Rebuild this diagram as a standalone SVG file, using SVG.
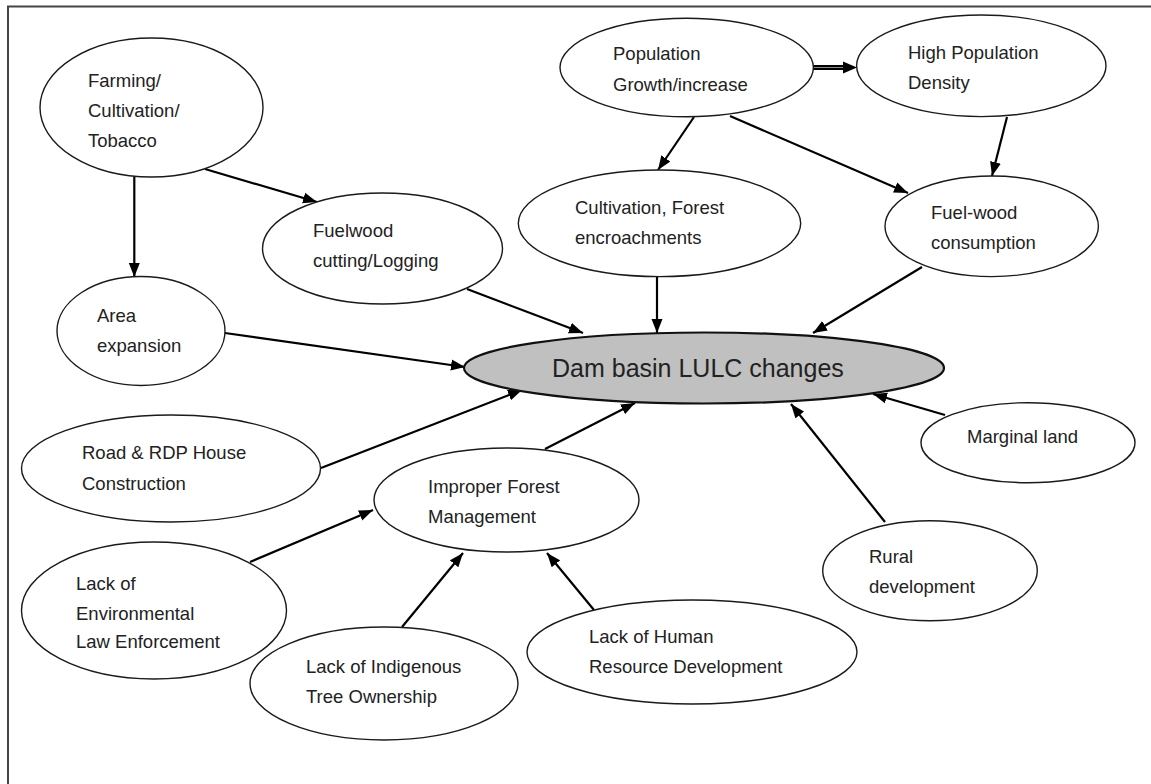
<svg xmlns="http://www.w3.org/2000/svg" width="1151" height="784" viewBox="0 0 1151 784">
<style>
.n ellipse{fill:#fff;stroke:#1a1a1a;stroke-width:1.4}
.n text{font-family:"Liberation Sans",Arial,sans-serif;font-size:18.5px;fill:#222}
#dam ellipse{fill:#c0c0c0;stroke:#111;stroke-width:2.2}
#dam text{font-size:25px}
.c line{stroke:#000;stroke-width:2.2;marker-end:url(#ah)}
</style>
<defs>
<marker id="ah" markerUnits="userSpaceOnUse" markerWidth="15" markerHeight="12" refX="14" refY="6" orient="auto">
<path d="M0,0.5 L14,6 L0,11.5 z" fill="#000"/>
</marker>
</defs>
<rect width="1151" height="784" fill="#fff"/>
<g id="frame" fill="none" stroke="#444" stroke-width="2">
<line x1="7" y1="6.5" x2="1151" y2="6.5"/>
<line x1="8" y1="6" x2="8" y2="784"/>
</g>
<g class="c" id="connectors">
<line x1="134.3" y1="177" x2="134.3" y2="277"/>
<line x1="205" y1="169" x2="317" y2="202"/>
<line x1="467" y1="289" x2="583" y2="333"/>
<line x1="657" y1="277" x2="657" y2="333"/>
<line x1="922" y1="267" x2="813" y2="333"/>
<line x1="694" y1="117" x2="658" y2="170"/>
<line x1="730" y1="116" x2="908" y2="193"/>
<path d="M813,67.5 H846" stroke="#000" stroke-width="5" fill="none"/>
<path d="M813,67.5 H846" stroke="#888" stroke-width="1.2" fill="none"/>
<path d="M843,61.5 L857,67.5 L843,73.5 z" fill="#000"/>
<line x1="1007" y1="117" x2="992" y2="176"/>
<line x1="225" y1="333" x2="465" y2="367"/>
<line x1="321" y1="468" x2="522" y2="390"/>
<line x1="545" y1="449" x2="635" y2="403"/>
<line x1="885" y1="522" x2="791" y2="404"/>
<line x1="945" y1="415" x2="873" y2="394"/>
<line x1="250" y1="562" x2="373" y2="510"/>
<line x1="402" y1="627" x2="463" y2="553"/>
<line x1="594" y1="610" x2="547" y2="553"/>
</g>
<g class="n" id="farming">
<ellipse cx="151.5" cy="107.5" rx="111.5" ry="69.5"/>
<text x="88" y="87">Farming/</text>
<text x="88" y="117">Cultivation/</text>
<text x="88" y="147">Tobacco</text>
</g>
<g class="n" id="fuelwood-cutting">
<ellipse cx="382.5" cy="248.5" rx="120" ry="55.5"/>
<text x="313" y="237">Fuelwood</text>
<text x="313" y="267">cutting/Logging</text>
</g>
<g class="n" id="area-expansion">
<ellipse cx="141" cy="331" rx="84" ry="54.5"/>
<text x="97" y="322">Area</text>
<text x="97" y="352">expansion</text>
</g>
<g class="n" id="population-growth">
<ellipse cx="686.7" cy="67.5" rx="126.7" ry="49.2"/>
<text x="613" y="60">Population</text>
<text x="613" y="90.5">Growth/increase</text>
</g>
<g class="n" id="high-density">
<ellipse cx="981.3" cy="65.8" rx="124.7" ry="50.8"/>
<text x="908" y="59">High Population</text>
<text x="908" y="89">Density</text>
</g>
<g class="n" id="cultivation-forest">
<ellipse cx="659.5" cy="223.3" rx="141.2" ry="53.3"/>
<text x="575" y="214">Cultivation, Forest</text>
<text x="575" y="244">encroachments</text>
</g>
<g class="n" id="fuelwood-consumption">
<ellipse cx="991.7" cy="226.3" rx="106.7" ry="50.3"/>
<text x="931" y="219">Fuel-wood</text>
<text x="931" y="249">consumption</text>
</g>
<g class="n" id="dam">
<ellipse cx="704" cy="368" rx="240" ry="35.5"/>
<text x="552" y="377">Dam basin LULC changes</text>
</g>
<g class="n" id="road-rdp">
<ellipse cx="171" cy="468.5" rx="149.5" ry="53.5"/>
<text x="82" y="459">Road &amp; RDP House</text>
<text x="82" y="490">Construction</text>
</g>
<g class="n" id="improper-forest">
<ellipse cx="506.5" cy="500" rx="132.5" ry="52"/>
<text x="428" y="493">Improper Forest</text>
<text x="428" y="523">Management</text>
</g>
<g class="n" id="marginal-land">
<ellipse cx="1028" cy="442.7" rx="107" ry="40"/>
<text x="967" y="443">Marginal land</text>
</g>
<g class="n" id="rural-development">
<ellipse cx="930" cy="570.7" rx="107.3" ry="50"/>
<text x="869" y="563">Rural</text>
<text x="869" y="593">development</text>
</g>
<g class="n" id="lack-env-law">
<ellipse cx="154" cy="610.5" rx="132.5" ry="68.5"/>
<text x="76" y="590">Lack of</text>
<text x="76" y="619.5">Environmental</text>
<text x="76" y="648">Law Enforcement</text>
</g>
<g class="n" id="lack-indigenous">
<ellipse cx="384" cy="683.5" rx="134" ry="56.5"/>
<text x="306" y="673">Lack of Indigenous</text>
<text x="306" y="703">Tree Ownership</text>
</g>
<g class="n" id="lack-human-resource">
<ellipse cx="692" cy="652" rx="165" ry="52"/>
<text x="589" y="643">Lack of Human</text>
<text x="589" y="673">Resource Development</text>
</g>
</svg>
